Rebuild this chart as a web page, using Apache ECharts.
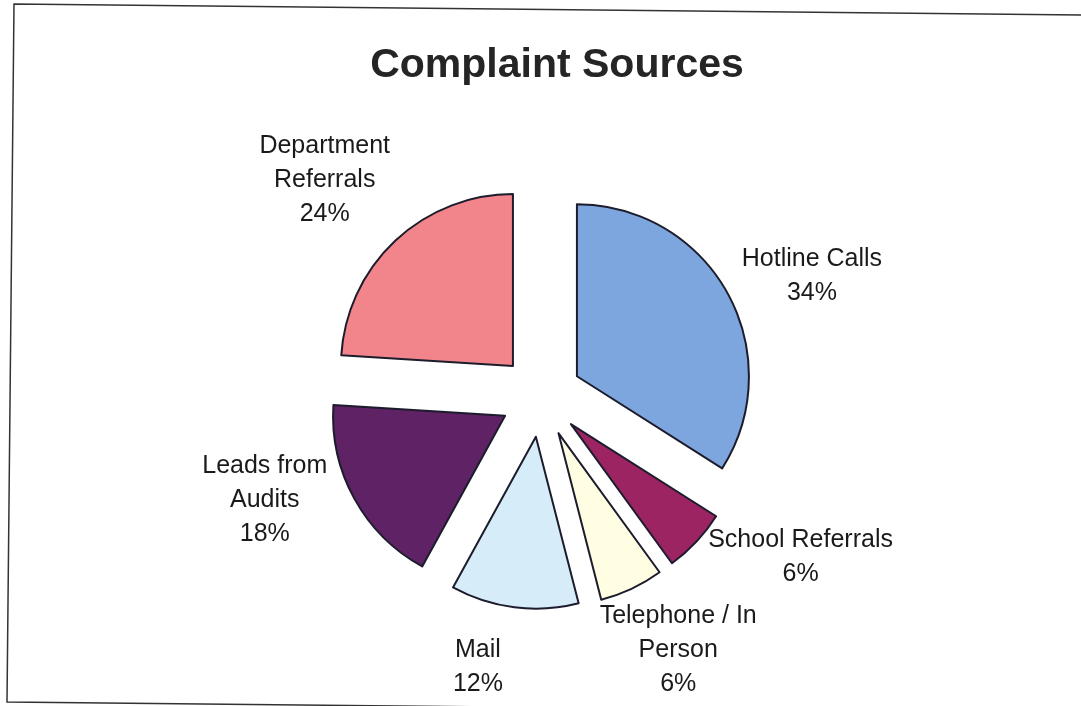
<!DOCTYPE html>
<html>
<head>
<meta charset="utf-8">
<script src="https://cdn.jsdelivr.net/npm/echarts@6/dist/echarts.min.js"></script>
<style>
  html, body { margin: 0; padding: 0; background: #ffffff; }
  #chart { width: 1081px; height: 706px; }
</style>
</head>
<body>
<div id="chart"></div>
<script>
// ---- data ----
const categories = ['Hotline Calls', 'School Referrals', 'Telephone / In\nPerson', 'Mail', 'Leads from\nAudits', 'Department\nReferrals'];
const values = [34, 6, 6, 12, 18, 24];
const colors = ['#7DA5DE', '#9C2462', '#FFFDE2', '#D6ECF8', '#5E2265', '#F2858B'];
const chartTitle = 'Complaint Sources';

const chart = echarts.init(document.getElementById('chart'), null, { renderer: 'canvas' });

const total = values.reduce((a, b) => a + b, 0);
// mid-angle direction of each slice (clockwise from 12 o'clock), derived from the data
const midDirs = [];
(function () {
  let acc = 0;
  values.forEach(v => {
    const mid = (acc + v / 2) / total * Math.PI * 2;
    midDirs.push([Math.sin(mid), -Math.cos(mid)]);
    acc += v;
  });
})();

// small label nudges (layout only, by slice order) to mimic the original's label placement
const labelNudge = [[0, 12], [18, -26], [2, -8], [-30, 0], [-12, -36], [-8, -4]];

const seriesData = categories.map((name, i) => ({
  name: name,
  value: values[i],
  selected: true,
  itemStyle: { color: colors[i] }
}));

chart.setOption({
  animation: false,
  backgroundColor: '#ffffff',
  title: {
    text: chartTitle,
    left: 552,
    top: 40,
    textAlign: 'center',
    textStyle: {
      fontFamily: 'Liberation Sans, Arial, sans-serif',
      fontSize: 41,
      fontWeight: 'bold',
      color: '#252525'
    }
  },
  graphic: [{
    type: 'polyline',
    silent: true,
    shape: { points: [[1081, 15], [14, 4], [7, 702], [1081, 713]] },
    style: { stroke: '#333333', lineWidth: 1.5, fill: null }
  }],
  series: [{
    type: 'pie',
    center: [541, 396],
    radius: [0, 172],
    startAngle: 90,
    clockwise: true,
    selectedMode: 'multiple',
    selectedOffset: 41,
    avoidLabelOverlap: false,
    data: seriesData,
    itemStyle: { borderColor: '#1c1c2c', borderWidth: 2 },
    select: { itemStyle: { borderColor: '#1c1c2c', borderWidth: 2 } },
    emphasis: { disabled: true },
    label: {
      show: true,
      position: 'outside',
      formatter: (p) => p.name + '\n' + p.value + '%',
      fontFamily: 'Liberation Sans, Arial, sans-serif',
      fontSize: 25,
      lineHeight: 34,
      color: '#1a1a1a',
      distanceToLabelLine: 0
    },
    labelLine: { show: false, length: 26, length2: 0 },
    labelLayout: function (params) {
      const i = params.dataIndex;
      const d = midDirs[i];
      const w = params.labelRect.width, h = params.labelRect.height;
      return {
        align: 'center',
        verticalAlign: 'middle',
        dx: d[0] * w / 2 + labelNudge[i][0],
        dy: d[1] * h / 2 + labelNudge[i][1]
      };
    }
  }]
});
</script>
</body>
</html>
